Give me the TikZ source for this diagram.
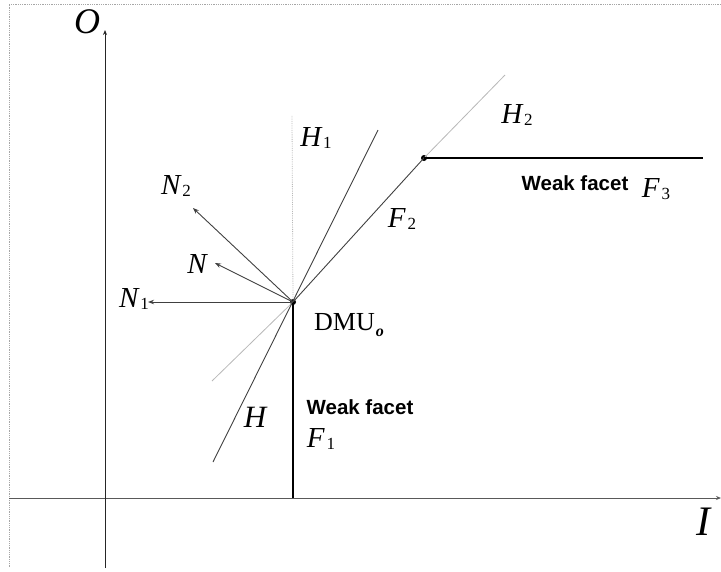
\documentclass[tikz,border=0pt]{standalone}
\usepackage{fontspec}
\setmainfont{Liberation Serif}
\newfontfamily\lsans{Liberation Sans}
\usetikzlibrary{arrows.meta}
\newcommand\mlab[3][29]{{\fontsize{#1}{#1}\selectfont\itshape #2}\kern2pt\raisebox{-0.45ex}{\fontsize{17}{17}\selectfont #3}}
\tikzset{
  frameline/.style={gray!70, densely dotted, line width=0.8pt},
  axis/.style={line width=1pt, -{Stealth[length=5pt,width=4pt]}},
  facet/.style={black, line width=1.6pt},
  hyper/.style={black!75, line width=0.9pt},
  support/.style={black!28, line width=0.8pt},
  normalvec/.style={black!75, line width=0.9pt, -{Stealth[length=6pt,width=4.5pt]}},
  pt/.style={circle, fill=black, inner sep=0pt, minimum size=6pt},
  lbl/.style={inner sep=0pt},
  sanslbl/.style={inner sep=0pt, font=\lsans\bfseries\fontsize{20.5}{20.5}\selectfont},
}
\begin{document}
\begin{tikzpicture}[x=1pt,y=-1pt]
\useasboundingbox (0,0) rectangle (721,571);
% frame
\coordinate (ftl) at (9,4);
\coordinate (ftr) at (721,4);
\coordinate (fbl) at (9,568);
\draw[frameline] (ftr) -- (ftl) -- (fbl);
% axes
\coordinate (xs) at (9,498);
\coordinate (xe) at (721,498);
\coordinate (ys) at (105,568);
\coordinate (ye) at (105,30);
\draw[axis, black!65] (xs) -- (xe);
\draw[axis, black!85] (ys) -- (ye);
% points
\node[pt] (dmu) at (293,302) {};
\node[pt] (k) at (424,158) {};
\coordinate (f1b) at (293,498);
\coordinate (f3e) at (703,158);
\coordinate (hlo) at (213,462);
\coordinate (hhi) at (378,130);
\coordinate (h1t) at (292,115);
\coordinate (h2lo) at (212,381);
\coordinate (h2hi) at (505,75);
\coordinate (n1) at (148,302);
\coordinate (n0) at (215,263);
\coordinate (n2) at (193,208);
% supporting lines
\draw[support, densely dotted] (dmu.center) -- (h1t);
\draw[support] (dmu.center) -- (h2lo);
\draw[support] (k.center) -- (h2hi);
\draw[hyper] (hlo) -- (hhi);
\draw[hyper] (dmu.center) -- (k.center);
\draw[facet] (dmu.center) -- (f1b);
\draw[facet] (k.center) -- (f3e);
% normals
\draw[normalvec] (dmu.center) -- (n1);
\draw[normalvec] (dmu.center) -- (n0);
\draw[normalvec] (dmu.center) -- (n2);
% labels
\node[lbl] (lO) at (87,22) {\fontsize{36}{36}\selectfont\itshape O};
\node[lbl] (lI) at (703,522) {\fontsize{42}{42}\selectfont\itshape I};
\node[lbl] (lN2) at (176,186) {\mlab{N}{2}};
\node[lbl] (lN) at (197,264) {\fontsize{29}{29}\selectfont\itshape N};
\node[lbl] (lN1) at (134,299) {\mlab{N}{1}};
\node[lbl] (lH1) at (316,138) {\mlab{H}{1}};
\node[lbl] (lH) at (255,417) {\fontsize{31}{31}\selectfont\itshape H};
\node[lbl] (lH2) at (517,115) {\mlab{H}{2}};
\node[lbl] (lF2) at (402,219) {\mlab{F}{2}};
\node[lbl] (lF1) at (321,439) {\mlab{F}{1}};
\node[lbl] (lF3) at (656,189) {\mlab{F}{3}};
\node[lbl] (ldmu) at (349,325) {\fontsize{26}{26}\selectfont DMU\kern1pt\raisebox{-0.45ex}{\fontsize{16}{16}\selectfont\bfseries\itshape o}};
\node[sanslbl] (lw1) at (360,407) {Weak facet};
\node[sanslbl] (lw3) at (575,183) {Weak facet};
\end{tikzpicture}
\end{document}
